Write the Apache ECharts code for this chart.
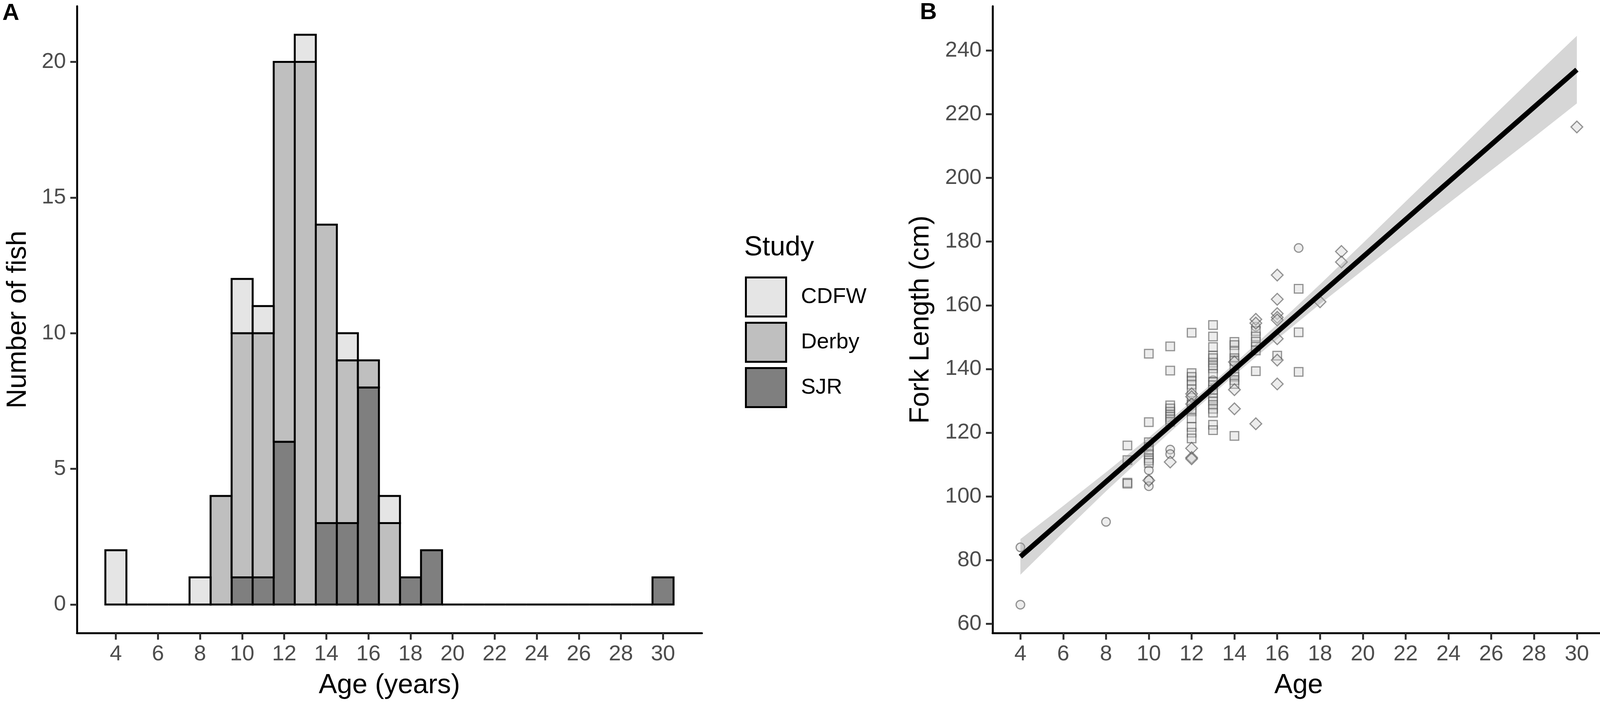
<!DOCTYPE html>
<html>
<head>
<meta charset="utf-8">
<title>Age and fork length by study</title>
<script src="https://cdn.jsdelivr.net/npm/echarts@6/dist/echarts.min.js"></script>
<style>
  html, body { margin: 0; padding: 0; background: #fff; }
  #chart { width: 4550px; height: 1813px; }
</style>
</head>
<body>
<div id="chart"></div>
<script>
(function(){
  // --- panel A: age histogram, counts per study (stacked SJR / Derby / CDFW)
  const ages  = [4,5,6,7,8,9,10,11,12,13,14,15,16,17,18,19,20,21,22,23,24,25,26,27,28,29,30];
  const sjr   = [0,0,0,0,0,0,1,1,6,0,3,3,8,0,1,2,0,0,0,0,0,0,0,0,0,0,1];
  const derby = [0,0,0,0,0,4,9,9,14,20,11,6,1,3,0,0,0,0,0,0,0,0,0,0,0,0,0];
  const cdfw  = [2,0,0,0,1,0,2,1,0,1,0,1,0,1,0,0,0,0,0,0,0,0,0,0,0,0,0];
  const histYTicks = [0,5,10,15,20];
  const ageTicks = [4,6,8,10,12,14,16,18,20,22,24,26,28,30];

  // --- panel B: fork length (cm) against age, per study
  const cdfwPts = [[4,84],[4,66],[8,92],[10,108.2],[10,105.1],[10,103.2],[11,114.7],[11,113.3],
    [13,136.5],[15,153.3],[17,178]];
  const derbyPts = [
    [9,116],[9,111.4],[9,104.3],[9,104],
    [10,144.8],[10,123.3],[10,117],[10,115.5],[10,114.5],[10,113.2],[10,112],[10,111.3],[10,110.5],
    [11,147.1],[11,139.5],[11,128.6],[11,127.6],[11,126.6],[11,125.6],[11,125],[11,124.2],[11,123.4],
    [12,151.4],[12,138.7],[12,137.5],[12,136.3],[12,135.1],[12,133.6],[12,130],[12,128.8],[12,127.5],
    [12,126.7],[12,124.5],[12,121.8],[12,120],[12,118.2],
    [13,153.8],[13,150.2],[13,146.9],[13,144.2],[13,143.4],[13,142],[13,141.1],[13,140.2],[13,138.5],
    [13,136],[13,134.9],[13,133.5],[13,132.4],[13,130.8],[13,129.8],[13,128.7],[13,127.5],[13,126.3],
    [13,122.5],[13,120.8],
    [14,148.5],[14,147.5],[14,145.5],[14,143.4],[14,142.5],[14,141],[14,138.5],[14,137.5],[14,136.5],
    [14,135.3],[14,119],
    [15,151.9],[15,150.2],[15,148.6],[15,147],[15,145.8],[15,139.3],
    [16,144.2],
    [17,165.2],[17,151.5],[17,139.1]
  ];
  const sjrPts = [[10,105],[11,110.8],
    [12,132.2],[12,131.3],[12,129],[12,115.1],[12,112.2],[12,111.8],
    [14,142.2],[14,133.5],[14,127.5],
    [15,155.6],[15,154.4],[15,122.8],
    [16,169.5],[16,161.9],[16,157.4],[16,156.2],[16,155.4],[16,149.5],[16,142.8],[16,135.3],
    [18,161.1],[19,176.9],[19,173.6],[30,216]];
  // fitted line and its confidence band
  const regAge = [4, 30];
  const regFl  = [81.1, 234.0];
  const bandAge = [4,6,8,10,12,14,16,18,20,22,24,26,28,30];
  const bandLo  = [75.4,88.6,101.6,114.1,126.3,138.1,149.4,160.4,171.0,181.6,192.0,202.4,212.8,223.4];
  const bandHi  = [86.6,97.0,107.6,118.5,129.9,141.7,154.0,166.6,179.5,192.6,205.6,218.8,231.8,244.6];
  const flTicks = [60,80,100,120,140,160,180,200,220,240];

  const FONT = '"Liberation Sans", Arial, Helvetica, sans-serif';
  const EDGE = '#000';

  // stacked rectangles [age, base, top] for one study
  function stackData(counts, below) {
    const out = [];
    counts.forEach((c, i) => {
      let base = 0;
      below.forEach(arr => { base += arr[i]; });
      if (c > 0) out.push([ages[i], base, base + c]);
    });
    return out;
  }
  // bins without any fish still show their outline on the zero line
  const emptyBins = [];
  ages.forEach((a, i) => { if (sjr[i] + derby[i] + cdfw[i] === 0) emptyBins.push([a, 0, 0]); });

  function binItem(params, api) {
    const x = api.value(0), y0 = api.value(1), y1 = api.value(2);
    const p0 = api.coord([x - 0.5, y0]);
    const p1 = api.coord([x + 0.5, y1]);
    if (y1 === y0) {
      return { type: 'line', shape: { x1: p0[0], y1: p0[1], x2: p1[0], y2: p0[1] },
        style: { stroke: EDGE, lineWidth: 5 } };
    }
    return { type: 'rect',
      shape: { x: p0[0], y: p1[1], width: p1[0] - p0[0], height: p0[1] - p1[1] },
      style: { fill: api.visual('color'), stroke: EDGE, lineWidth: 5, lineJoin: 'miter' } };
  }

  function bandItem(params, api) {
    const pts = [];
    bandAge.forEach((a, i) => pts.push(api.coord([a, bandHi[i]])));
    for (let i = bandAge.length - 1; i >= 0; i--) pts.push(api.coord([bandAge[i], bandLo[i]]));
    return { type: 'polygon', shape: { points: pts },
      style: { fill: 'rgba(153,153,153,0.4)', stroke: 'none' } };
  }

  function axis(extra) {
    return Object.assign({
      type: 'value',
      nameLocation: 'middle',
      nameTextStyle: { fontSize: 70, color: '#000', fontFamily: FONT },
      axisLine: { show: true, onZero: false, lineStyle: { color: '#000', width: 5 } },
      splitLine: { show: false }
    }, extra);
  }
  function ticks(vals) {
    return { show: true, length: 17, customValues: vals, lineStyle: { color: '#333', width: 5 } };
  }
  function labels(vals, margin) {
    return { show: true, customValues: vals, margin: margin, fontSize: 56, color: '#4d4d4d', fontFamily: FONT };
  }

  const ptStyle = { color: 'rgba(210,210,210,0.5)', borderColor: 'rgba(80,80,80,0.75)', borderWidth: 3 };

  const chart = echarts.init(document.getElementById('chart'), null, { renderer: 'canvas' });
  chart.setOption({
    animation: false,
    backgroundColor: '#fff',
    textStyle: { fontFamily: FONT },
    title: [
      { text: 'A', left: 6, top: 4, padding: 0, textStyle: { fontSize: 60, fontWeight: 'bold', color: '#000', fontFamily: FONT } },
      { text: 'B', left: 2355, top: 2, padding: 0, textStyle: { fontSize: 60, fontWeight: 'bold', color: '#000', fontFamily: FONT } },
      { text: 'Study', left: 1905, top: 600, padding: 0, textStyle: { fontSize: 70, fontWeight: 'normal', color: '#000', fontFamily: FONT } },
      { text: 'Study', left: 4218, top: 602, padding: 0, textStyle: { fontSize: 70, fontWeight: 'normal', color: '#000', fontFamily: FONT } }
    ],
    legend: [
      {
        data: ['A:CDFW', 'A:Derby', 'A:SJR'],
        orient: 'vertical', left: 1907, top: 708, padding: 0,
        icon: 'rect', itemWidth: 103, itemHeight: 100, itemGap: 11,
        itemStyle: { borderColor: EDGE, borderWidth: 5 },
        formatter: n => n.split(':')[1],
        textStyle: { fontSize: 56, color: '#000', fontFamily: FONT, padding: [0, 0, 0, 33] },
        selectedMode: false
      },
      {
        data: ['B:CDFW', 'B:Derby', 'B:SJR'],
        orient: 'vertical', left: 4258, top: 730, padding: 0,
        itemWidth: 28, itemHeight: 28, itemGap: 56,
        formatter: n => n.split(':')[1],
        textStyle: { fontSize: 56, lineHeight: 56, color: '#000', fontFamily: FONT, padding: [0, 0, 0, 74] },
        selectedMode: false
      }
    ],
    grid: [
      { left: 197, top: 16, width: 1600, height: 1605 },
      { left: 2541, top: 16, width: 1567, height: 1605 }
    ],
    xAxis: [
      axis({ gridIndex: 0, min: 2.15, max: 31.85, name: 'Age (years)', nameGap: 100,
        axisTick: ticks(ageTicks), axisLabel: labels(ageTicks, 27) }),
      axis({ gridIndex: 1, min: 2.7, max: 31.3, name: 'Age', nameGap: 100,
        axisTick: ticks(ageTicks), axisLabel: labels(ageTicks, 27) })
    ],
    yAxis: [
      axis({ gridIndex: 0, min: -1.05, max: 22.05, name: 'Number of fish', nameGap: 115,
        axisTick: ticks(histYTicks), axisLabel: labels(histYTicks, 28) }),
      axis({ gridIndex: 1, min: 57.1, max: 253.9, name: 'Fork Length (cm)', nameGap: 148,
        axisTick: ticks(flTicks), axisLabel: labels(flTicks, 28) })
    ],
    series: [
      { name: 'A:SJR', type: 'custom', xAxisIndex: 0, yAxisIndex: 0, silent: true,
        itemStyle: { color: '#7f7f7f' }, renderItem: binItem,
        data: stackData(sjr, []).concat(emptyBins) },
      { name: 'A:Derby', type: 'custom', xAxisIndex: 0, yAxisIndex: 0, silent: true,
        itemStyle: { color: '#bfbfbf' }, renderItem: binItem,
        data: stackData(derby, [sjr]) },
      { name: 'A:CDFW', type: 'custom', xAxisIndex: 0, yAxisIndex: 0, silent: true,
        itemStyle: { color: '#e5e5e5' }, renderItem: binItem,
        data: stackData(cdfw, [sjr, derby]) },

      { name: 'B:CDFW', type: 'scatter', xAxisIndex: 1, yAxisIndex: 1, silent: true,
        symbol: 'circle', symbolSize: 22, itemStyle: ptStyle, data: cdfwPts },
      { name: 'B:Derby', type: 'scatter', xAxisIndex: 1, yAxisIndex: 1, silent: true,
        symbol: 'rect', symbolSize: 22, itemStyle: ptStyle, data: derbyPts },
      { name: 'B:SJR', type: 'scatter', xAxisIndex: 1, yAxisIndex: 1, silent: true,
        symbol: 'diamond', symbolSize: 30, itemStyle: ptStyle, data: sjrPts },
      { name: 'band', type: 'custom', xAxisIndex: 1, yAxisIndex: 1, silent: true,
        renderItem: bandItem, data: [[bandAge[0], bandLo[0]]], z: 3 },
      { name: 'fit', type: 'line', xAxisIndex: 1, yAxisIndex: 1, silent: true,
        showSymbol: false, symbol: 'none', z: 4,
        lineStyle: { color: '#000', width: 13, cap: 'butt' },
        data: regAge.map((a, i) => [a, regFl[i]]) }
    ]
  });
})();
</script>
</body>
</html>
